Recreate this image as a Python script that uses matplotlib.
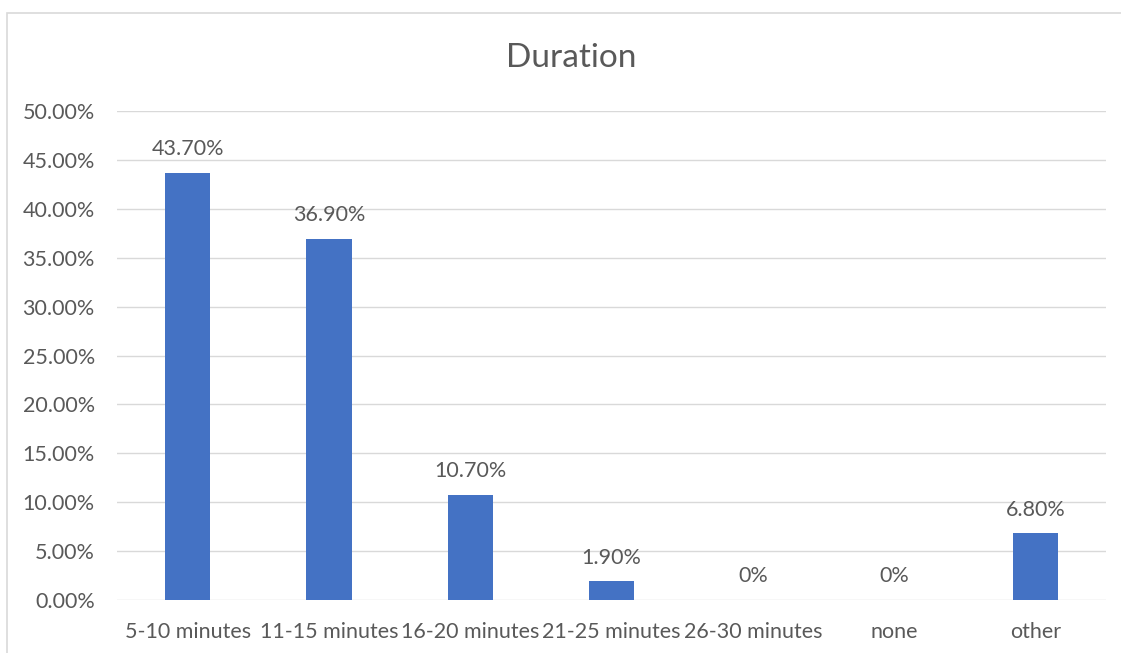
import matplotlib
matplotlib.use("Agg")
import matplotlib.pyplot as plt
from matplotlib.patches import Rectangle

categories = ["5-10 minutes", "11-15 minutes", "16-20 minutes", "21-25 minutes",
              "26-30 minutes", "none", "other"]
values = [43.7, 36.9, 10.7, 1.9, 0.0, 0.0, 6.8]
labels = ["43.70%", "36.90%", "10.70%", "1.90%", "0%", "0%", "6.80%"]
yticks = [0, 5, 10, 15, 20, 25, 30, 35, 40, 45, 50]

plt.rcParams['font.family'] = ['Lato', 'DejaVu Sans']
txt = '#595959'
fs = 15.5

fig = plt.figure(figsize=(11.21, 6.53), dpi=100)
ax = fig.add_axes([117/1121, 1-600/653, (1106-117)/1121, (600-111)/653])

x = list(range(len(categories)))
ax.bar(x, values, width=0.32, color='#4472C4', zorder=3)
ax.set_xlim(-0.5, len(categories)-0.5)
ax.set_ylim(0, 50)
ax.set_yticks(yticks)
ax.set_yticklabels([f"{v:.2f}%" for v in yticks], fontsize=fs, color=txt)
ax.set_xticks(x)
ax.set_xticklabels(categories, fontsize=fs, color=txt)
ax.tick_params(axis='both', length=0)
ax.tick_params(axis='x', pad=16)
ax.tick_params(axis='y', pad=16)
ax.grid(axis='y', color='#d9d9d9', lw=1, zorder=0)
for s in ax.spines.values():
    s.set_visible(False)

for xi, v, l in zip(x, values, labels):
    ax.annotate(l, (xi, v), xytext=(0, 10), textcoords='offset points',
                ha='center', va='bottom', fontsize=fs, color=txt)

fig.text(571/1121, 1-58/653, "Duration", ha='center', va='center', fontsize=24, color=txt)

fig.patches.append(Rectangle((7/1121, -0.1), 1.2, 1.1 - 13/653, transform=fig.transFigure,
                             fill=False, edgecolor='#d9d9d9', lw=1.2, clip_on=False))

fig.savefig("out.png", dpi=100)
